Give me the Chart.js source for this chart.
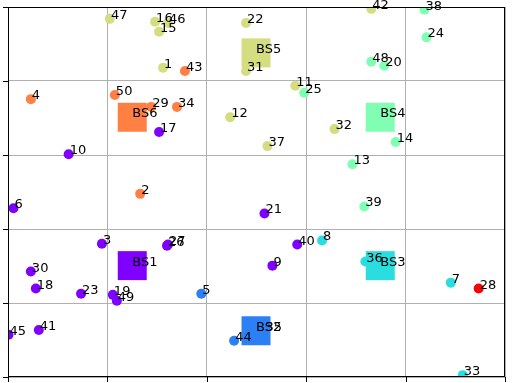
<!DOCTYPE html>
<html>
<head>
<meta charset="utf-8">
<script src="https://cdn.jsdelivr.net/npm/chart.js@4.4.1/dist/chart.umd.min.js"></script>
<style>
  html, body { margin: 0; padding: 0; background: #fff; }
  #wrap { width: 512px; height: 383px; }
</style>
</head>
<body>
<div id="wrap"><canvas id="grafica" width="512" height="383"></canvas></div>
<script>
// usuarios: id, x, y, cluster
const userIds = [1, 2, 3, 4, 5, 6, 7, 8, 9, 10, 11, 12, 13, 14, 15, 16, 17, 18, 19, 20, 21, 22, 23, 24, 25,
                 26, 27, 28, 29, 30, 31, 32, 33, 34, 35, 36, 37, 38, 39, 40, 41, 42, 43, 44, 45, 46, 47, 48, 49, 50];
const userX = [312, 266, 189, 46, 389, 11, 891, 632, 532, 122, 578, 447, 693, 780, 304, 296, 304, 56, 211, 757, 516, 479, 147, 842, 596,
               320, 322, 947, 288, 46, 479, 657, 915, 340, 516, 719, 522, 838, 717, 582, 62, 731, 356, 455, 1, 322, 205, 731, 219, 215];
const userY = [836, 495, 360, 751, 225, 456, 255, 369, 301, 602, 787, 702, 575, 635, 933, 960, 662, 239, 222, 841, 442, 957, 225, 918, 768,
               355, 358, 239, 730, 285, 827, 670, 5, 730, 125, 312, 624, 993, 461, 358, 127, 995, 827, 98, 114, 957, 968, 852, 206, 762];
const userCluster = [4, 5, 0, 5, 1, 0, 2, 2, 0, 0, 4, 4, 3, 3, 4, 4, 0, 0, 0, 3, 0, 4, 0, 3, 3,
                     0, 0, 6, 5, 0, 4, 4, 2, 5, 1, 2, 4, 3, 3, 0, 0, 4, 5, 1, 0, 4, 4, 3, 0, 5];

// estaciones base
const bsNames = ['BS1', 'BS2', 'BS3', 'BS4', 'BS5', 'BS6'];
const bsX = [250, 499, 749, 749, 499, 250];
const bsY = [301, 125, 301, 702, 876, 702];

const clusterColors = ['#8000ff', '#2b80f6', '#2addde', '#80ffb4', '#d4dd80', '#ff8042', '#ff0000'];

const gridTicks = [0, 200, 400, 600, 800, 1000];

const datasets = clusterColors.map((color, c) => ({
    label: 'cluster ' + c,
    data: userIds.map((id, i) => ({ x: userX[i], y: userY[i], id: id, c: userCluster[i] }))
                 .filter(p => p.c === c),
    backgroundColor: color,
    borderWidth: 0,
    pointRadius: 5,
    pointHoverRadius: 5,
    order: 1
}));

datasets.push({
    label: 'BS',
    data: bsNames.map((name, i) => ({ x: bsX[i], y: bsY[i], name: name })),
    backgroundColor: bsNames.map((n, i) => clusterColors[i]),
    borderWidth: 0,
    pointStyle: 'rect',
    pointRadius: 20.5,
    pointHoverRadius: 20.5,
    order: 0
});

const etiquetas = {
    id: 'etiquetas',
    afterDatasetsDraw(chart) {
        const ctx = chart.ctx;
        const sx = chart.scales.x, sy = chart.scales.y;
        const area = chart.chartArea;
        ctx.save();
        // marco y ticks
        ctx.strokeStyle = '#000';
        ctx.lineWidth = 1;
        ctx.strokeRect(area.left + 0.5, area.top + 0.5, area.right - area.left - 1, area.bottom - area.top - 1);
        ctx.beginPath();
        gridTicks.forEach(t => {
            const px = Math.round(sx.getPixelForValue(t)) + 0.5;
            ctx.moveTo(px, area.bottom);
            ctx.lineTo(px, area.bottom + 5);
            const py = Math.round(sy.getPixelForValue(t)) + 0.5;
            ctx.moveTo(area.left, py);
            ctx.lineTo(area.left - 5, py);
        });
        ctx.stroke();
        // textos
        ctx.fillStyle = '#000';
        ctx.font = '13px "DejaVu Sans"';
        ctx.textAlign = 'left';
        ctx.textBaseline = 'alphabetic';
        userIds.forEach((id, i) => {
            ctx.fillText(String(id), sx.getPixelForValue(userX[i]) + 1, sy.getPixelForValue(userY[i]));
        });
        bsNames.forEach((name, i) => {
            ctx.fillText(name, sx.getPixelForValue(bsX[i]), sy.getPixelForValue(bsY[i]));
        });
        ctx.restore();
    }
};

const ctx = document.getElementById('grafica').getContext('2d');
new Chart(ctx, {
    type: 'scatter',
    data: { datasets: datasets },
    options: {
        responsive: false,
        animation: false,
        layout: { autoPadding: false, padding: { left: 8, top: 7, right: 7, bottom: 6 } },
        plugins: { legend: { display: false }, tooltip: { enabled: false } },
        scales: {
            x: {
                min: 0, max: 1000,
                ticks: { display: false, stepSize: 200 },
                grid: { color: '#b0b0b0', drawTicks: false },
                border: { display: false }
            },
            y: {
                min: 0, max: 1000,
                ticks: { display: false, stepSize: 200 },
                grid: { color: '#b0b0b0', drawTicks: false },
                border: { display: false }
            }
        }
    },
    plugins: [etiquetas]
});
</script>
</body>
</html>
